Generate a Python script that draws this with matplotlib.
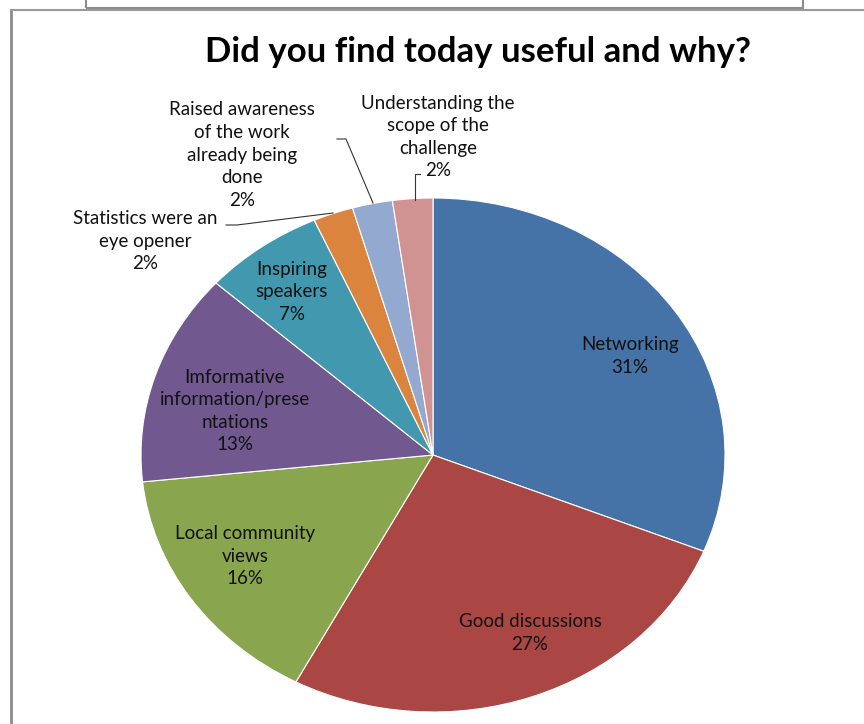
import matplotlib
matplotlib.use("Agg")
import matplotlib.pyplot as plt
from matplotlib.lines import Line2D
from matplotlib.patches import Rectangle

# data (response counts, read from the percentages: total 45)
categories = ["Networking", "Good discussions", "Local community views",
              "Imformative information/presentations", "Inspiring speakers",
              "Statistics were an eye opener",
              "Raised awareness of the work already being done",
              "Understanding the scope of the challenge"]
counts = [14, 12, 7, 6, 3, 1, 1, 1]
label_texts = ["Networking", "Good discussions", "Local community\nviews",
               "Imformative\ninformation/prese\nntations", "Inspiring\nspeakers",
               "Statistics were an\neye opener",
               "Raised awareness\nof the work\nalready being\ndone",
               "Understanding the\nscope of the\nchallenge"]
colors = ["#4572A7", "#AA4643", "#89A54E", "#71588F", "#4198AF",
          "#DB843D", "#93A9CF", "#D19392"]

# label centres in pixels (x, y from top)
label_pos = [(630, 356), (530, 633), (245, 556), (235, 411), (292, 292),
             (145, 241), (242, 155), (438, 137)]

W, H = 864, 724
fig = plt.figure(figsize=(W / 100, H / 100), dpi=100)


def fx(px):
    return px / W


def fy(py):
    return 1 - py / H


# outer frame bits
fig.patches.append(Rectangle((fx(86), fy(8)), fx(803) - fx(86), fy(-2) - fy(8),
                             transform=fig.transFigure, fill=False,
                             edgecolor="#8c8c8c", linewidth=1.5))
fig.lines.append(Line2D([fx(11), fx(11)], [fy(10), fy(730)], transform=fig.transFigure,
                        color="#8c8c8c", linewidth=2))
fig.lines.append(Line2D([fx(11), fx(870)], [fy(10), fy(10)], transform=fig.transFigure,
                        color="#9a9a9a", linewidth=1.5))

# stretched pie area
ax = fig.add_axes([fx(141), fy(712), fx(725) - fx(141), fy(198) - fy(712)])
ax.pie(counts, colors=colors, startangle=90, counterclock=False,
       wedgeprops=dict(edgecolor="white", linewidth=0.8))
ax.set_aspect("auto")
ax.set_xlim(-1, 1)
ax.set_ylim(-1, 1)
ax.axis("off")

fig.text(fx(478), fy(52), "Did you find today useful and why?", ha="center", va="center",
         fontsize=25, fontweight="bold", family="Lato")

total = sum(counts)
for txt, c, (px, py) in zip(label_texts, counts, label_pos):
    pct = round(100 * c / total)
    fig.text(fx(px), fy(py), f"{txt}\n{pct}%", ha="center", va="center",
             fontsize=13.5, family="Lato", linespacing=1.4, color="#111111")

# leader lines for the small slices
leaders = [
    [(226, 225), (237, 225), (333, 213)],
    [(337, 139), (346, 139), (373, 203)],
    [(420, 174), (415, 174), (415, 200)],
]
for pts in leaders:
    xs = [fx(p[0]) for p in pts]
    ys = [fy(p[1]) for p in pts]
    fig.lines.append(Line2D(xs, ys, transform=fig.transFigure, color="#333333", linewidth=0.8))

fig.savefig("out.png", dpi=100, facecolor="white")
